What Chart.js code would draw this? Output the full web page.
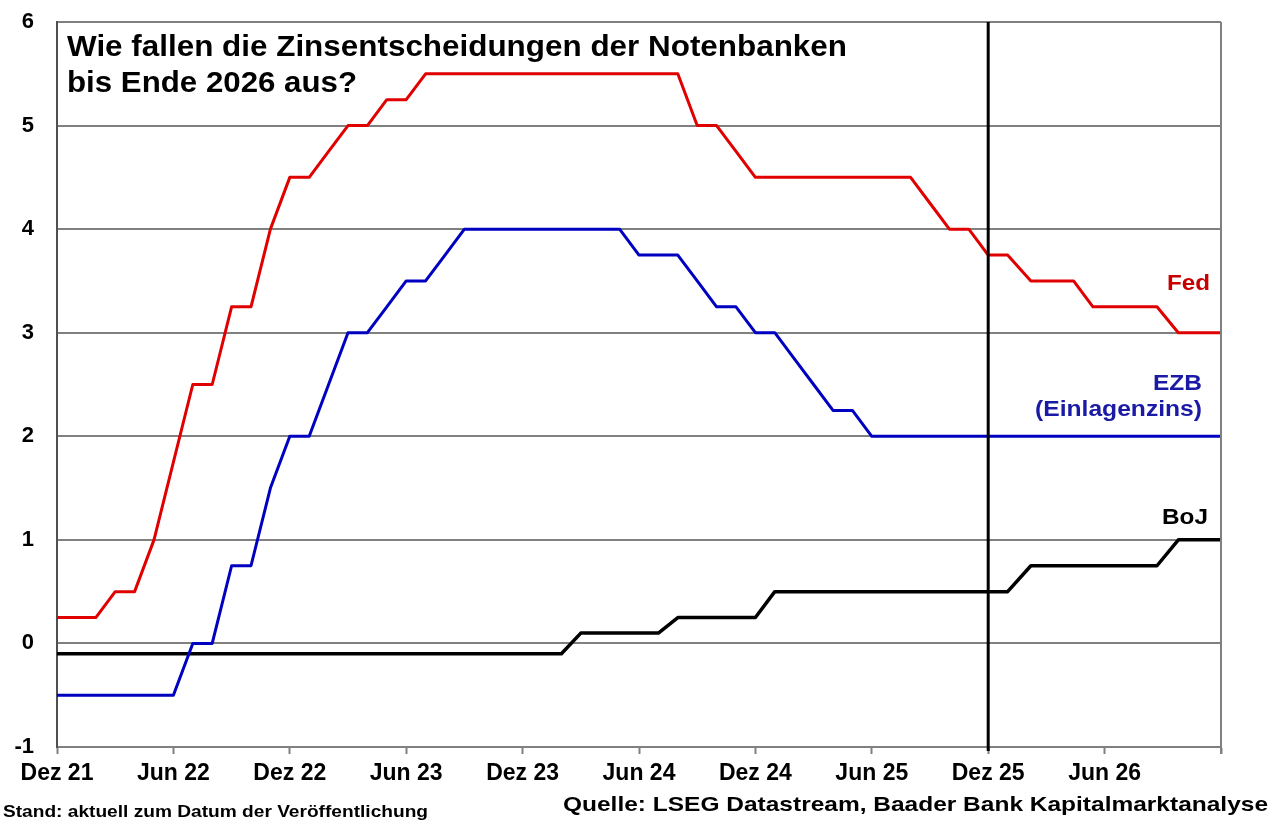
<!DOCTYPE html>
<html lang="de">
<head>
<meta charset="utf-8">
<title>Zinsentscheidungen der Notenbanken</title>
<script src="https://cdn.jsdelivr.net/npm/chart.js@4.4.1/dist/chart.umd.min.js"></script>
<style>
    body { margin: 0; background: #fff; }
    #chart { display: block; }
</style>
</head>
<body>
<canvas id="chart" width="1280" height="828"></canvas>
<script>
// Monate seit Dez 21 (ab Jan 26 Prognosepunkte)
const monate = [
    0, 1, 2, 3, 4, 5, 6, 7, 8, 9,
    10, 11, 12, 13, 14, 15, 16, 17, 18, 19,
    20, 21, 22, 23, 24, 25, 26, 27, 28, 29,
    30, 31, 32, 33, 34, 35, 36, 37, 38, 39,
    40, 41, 42, 43, 44, 45, 46, 47, 48,
    49, 50.2, 52.4, 53.4, 56.7, 57.8, 60
];

const fed = [
    0.25, 0.25, 0.25, 0.5, 0.5, 1.0, 1.75, 2.5, 2.5, 3.25,
    3.25, 4.0, 4.5, 4.5, 4.75, 5.0, 5.0, 5.25, 5.25, 5.5,
    5.5, 5.5, 5.5, 5.5, 5.5, 5.5, 5.5, 5.5, 5.5, 5.5,
    5.5, 5.5, 5.5, 5.0, 5.0, 4.75, 4.5, 4.5, 4.5, 4.5,
    4.5, 4.5, 4.5, 4.5, 4.5, 4.25, 4.0, 4.0, 3.75,
    3.75, 3.5, 3.5, 3.25, 3.25, 3.0, 3.0
];

const ezb = [
    -0.5, -0.5, -0.5, -0.5, -0.5, -0.5, -0.5, 0, 0, 0.75,
    0.75, 1.5, 2.0, 2.0, 2.5, 3.0, 3.0, 3.25, 3.5, 3.5,
    3.75, 4.0, 4.0, 4.0, 4.0, 4.0, 4.0, 4.0, 4.0, 4.0,
    3.75, 3.75, 3.75, 3.5, 3.25, 3.25, 3.0, 3.0, 2.75, 2.5,
    2.25, 2.25, 2.0, 2.0, 2.0, 2.0, 2.0, 2.0, 2.0,
    2.0, 2.0, 2.0, 2.0, 2.0, 2.0, 2.0
];

const boj = [
    -0.1, -0.1, -0.1, -0.1, -0.1, -0.1, -0.1, -0.1, -0.1, -0.1,
    -0.1, -0.1, -0.1, -0.1, -0.1, -0.1, -0.1, -0.1, -0.1, -0.1,
    -0.1, -0.1, -0.1, -0.1, -0.1, -0.1, -0.1, 0.1, 0.1, 0.1,
    0.1, 0.1, 0.25, 0.25, 0.25, 0.25, 0.25, 0.5, 0.5, 0.5,
    0.5, 0.5, 0.5, 0.5, 0.5, 0.5, 0.5, 0.5, 0.5,
    0.5, 0.75, 0.75, 0.75, 0.75, 1.0, 1.0
];

const tickLabels = ['Dez 21', 'Jun 22', 'Dez 22', 'Jun 23', 'Dez 23', 'Jun 24', 'Dez 24', 'Jun 25', 'Dez 25', 'Jun 26', ''];
const prognoseStart = 48; // Dez 25

const FONT = "'Liberation Sans', Arial, sans-serif";

function points(values) {
    return monate.map((m, i) => ({ x: m, y: values[i] }));
}

// draws text squeezed/stretched to a given width (the original is a bit wide)
function fitText(ctx, text, x, y, size, color, align, width) {
    ctx.save();
    ctx.font = `bold ${size}px ${FONT}`;
    ctx.fillStyle = color;
    ctx.textBaseline = 'alphabetic';
    ctx.textAlign = 'left';
    const w = ctx.measureText(text).width;
    const sx = width ? width / w : 1;
    const left = align === 'right' ? x - w * sx : x;
    ctx.translate(left, y);
    ctx.scale(sx, 1);
    ctx.fillText(text, 0, 0);
    ctx.restore();
}

const extras = {
    id: 'extras',
    beforeDraw(chart) {
        const ctx = chart.ctx;
        ctx.save();
        ctx.fillStyle = '#fff';
        ctx.fillRect(0, 0, chart.width, chart.height);
        ctx.restore();
    },
    afterDatasetsDraw(chart) {
        const { ctx, chartArea, scales } = chart;
        ctx.save();
        // rechter Rahmen
        ctx.strokeStyle = '#808080';
        ctx.lineWidth = 2;
        ctx.beginPath();
        ctx.moveTo(chartArea.right, chartArea.top);
        ctx.lineTo(chartArea.right, chartArea.bottom + 7);
        ctx.stroke();
        // Linie bei Dez 25
        const px = scales.x.getPixelForValue(prognoseStart);
        ctx.strokeStyle = '#000';
        ctx.lineWidth = 3;
        ctx.beginPath();
        ctx.moveTo(px, chartArea.top);
        ctx.lineTo(px, chartArea.bottom + 4);
        ctx.stroke();
        ctx.restore();
    },
    afterDraw(chart) {
        const ctx = chart.ctx;
        fitText(ctx, 'Wie fallen die Zinsentscheidungen der Notenbanken', 67, 56, 29, '#000', 'left', 780);
        fitText(ctx, 'bis Ende 2026 aus?', 67, 92, 29, '#000', 'left', 290);

        fitText(ctx, 'Fed', 1210, 290, 22, '#c80000', 'right', 43);
        fitText(ctx, 'EZB', 1202, 390, 22, '#1a1aa6', 'right', 49);
        fitText(ctx, '(Einlagenzins)', 1202, 416, 22, '#1a1aa6', 'right', 167);
        fitText(ctx, 'BoJ', 1208, 524, 22, '#000', 'right', 46);

        fitText(ctx, 'Stand: aktuell zum Datum der Veröffentlichung', 3, 817, 17, '#000', 'left', 425);
        fitText(ctx, 'Quelle: LSEG Datastream, Baader Bank Kapitalmarktanalyse', 1268, 811, 21, '#000', 'right', 705);
    }
};

new Chart(document.getElementById('chart'), {
    type: 'line',
    data: {
        datasets: [
            {
                label: 'Fed',
                data: points(fed),
                borderColor: '#e00000',
                borderWidth: 3
            },
            {
                label: 'EZB (Einlagenzins)',
                data: points(ezb),
                borderColor: '#0000c0',
                borderWidth: 3
            },
            {
                label: 'BoJ',
                data: points(boj),
                borderColor: '#000000',
                borderWidth: 3.5
            }
        ]
    },
    options: {
        responsive: false,
        animation: false,
        layout: { padding: { top: 22, right: 59, left: 0, bottom: 0 } },
        elements: {
            point: { radius: 0 },
            line: { tension: 0, fill: false, borderJoinStyle: 'round' }
        },
        plugins: {
            legend: { display: false },
            title: { display: false },
            tooltip: { enabled: false }
        },
        scales: {
            x: {
                type: 'linear',
                min: 0,
                max: 60,
                afterFit: (scale) => { scale.height = 81; scale.paddingLeft = 0; scale.paddingRight = 0; },
                ticks: {
                    stepSize: 6,
                    autoSkip: false,
                    maxRotation: 0,
                    padding: 6,
                    color: '#000',
                    font: { family: FONT, size: 23, weight: 'bold' },
                    callback: (v) => tickLabels[Math.round(v / 6)]
                },
                grid: {
                    drawOnChartArea: false,
                    drawTicks: true,
                    tickLength: 7,
                    tickWidth: 2,
                    tickColor: '#808080'
                },
                border: { color: '#808080', width: 2 }
            },
            y: {
                min: -1,
                max: 6,
                afterFit: (scale) => { scale.width = 57; scale.paddingTop = 0; scale.paddingBottom = 0; },
                ticks: {
                    stepSize: 1,
                    padding: 23,
                    color: '#000',
                    font: { family: FONT, size: 22, weight: 'bold' }
                },
                grid: {
                    drawTicks: false,
                    color: '#808080',
                    lineWidth: 2
                },
                border: { color: '#505050', width: 2 }
            }
        }
    },
    plugins: [extras]
});
</script>
</body>
</html>
